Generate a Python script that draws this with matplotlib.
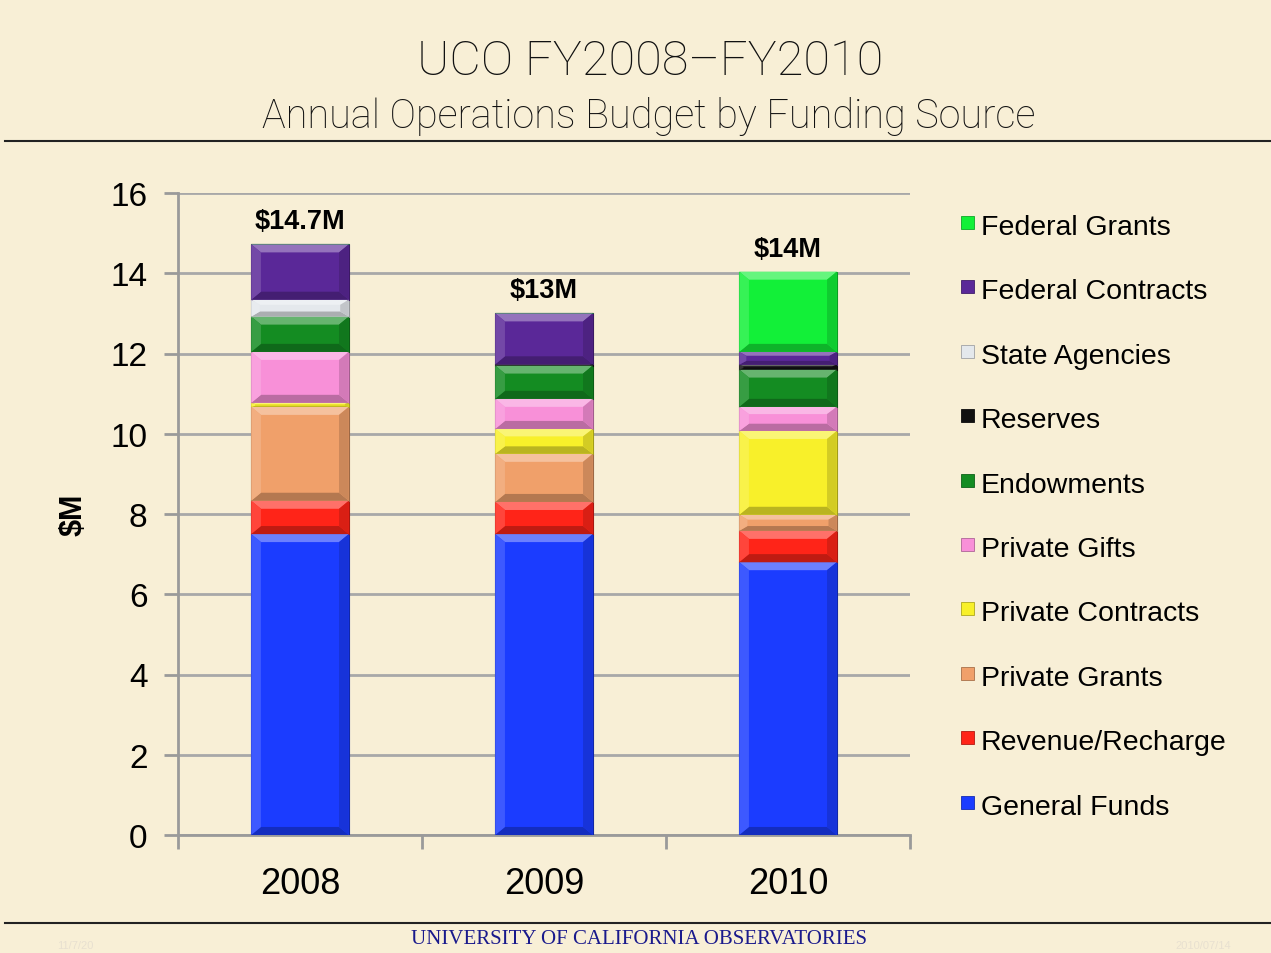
import matplotlib
matplotlib.use("Agg")
import matplotlib.pyplot as plt
import numpy as np
from matplotlib.patches import Polygon, Rectangle
from matplotlib.colors import to_rgb

years = ["2008", "2009", "2010"]
totals = ["$14.7M", "$13M", "$14M"]

# bottom-to-top stacking order
sources = ["General Funds", "Revenue/Recharge", "Private Grants", "Private Contracts",
           "Private Gifts", "Endowments", "Reserves", "State Agencies",
           "Federal Contracts", "Federal Grants"]
general_funds = [7.50, 7.50, 6.80]
revenue_recharge = [0.83, 0.80, 0.78]
private_grants = [2.34, 1.20, 0.40]
private_contracts = [0.10, 0.62, 2.09]
private_gifts = [1.27, 0.75, 0.60]
endowments = [0.88, 0.83, 0.93]
reserves = [0.00, 0.03, 0.12]
state_agencies = [0.42, 0.00, 0.00]
federal_contracts = [1.38, 1.27, 0.32]
federal_grants = [0.00, 0.00, 2.00]

series = [general_funds, revenue_recharge, private_grants, private_contracts,
          private_gifts, endowments, reserves, state_agencies,
          federal_contracts, federal_grants]
colors = ["#1b3cff", "#ff2418", "#f0a06a", "#f8f02a", "#f890d8",
          "#148c22", "#111111", "#e4e8ec", "#5a2898", "#12f038"]

bg = "#f8efd6"
sans = ["Liberation Sans", "DejaVu Sans"]
fig = plt.figure(figsize=(12.71, 9.54), dpi=100)
fig.patch.set_facecolor(bg)

def mix(c, t, amt):
    c = np.array(to_rgb(c)); t = np.array(to_rgb(t))
    return tuple(c * (1 - amt) + t * amt)

ax = fig.add_axes([178 / 1271, 1 - 836 / 954, 732 / 1271, 642 / 954])
ax.set_facecolor(bg)
ax.set_xlim(-0.5, 2.5)
ax.set_ylim(0, 16)
ax.set_yticks(range(0, 17, 2))
ax.yaxis.grid(True, color="#a8a8a8", linewidth=2)
ax.set_axisbelow(True)
for s in ["top", "right"]:
    ax.spines[s].set_visible(False)
for s in ["left", "bottom"]:
    ax.spines[s].set_color("#9a9a9a")
    ax.spines[s].set_linewidth(2)
ax.set_xticks([-0.5, 0.5, 1.5, 2.5], minor=False)
ax.set_xticklabels([])
ax.tick_params(axis="x", which="major", length=10, width=2, color="#9a9a9a", direction="out")
ax.tick_params(axis="y", length=10, width=2, color="#9a9a9a", labelsize=24, pad=12)
for lab in ax.get_yticklabels():
    lab.set_family(sans)
ax.set_xticks(range(3), minor=True)
ax.set_xticklabels(years, minor=True)
ax.tick_params(axis="x", which="minor", length=0, labelsize=26, pad=22)
for lab in ax.get_xticklabels(minor=True):
    lab.set_family(sans)
ax.set_ylabel("$M", fontsize=22, fontweight="bold", labelpad=16, family=sans)

w = 0.4
bx = w / 2
bev_x = 0.04
x = np.arange(3)
bottoms = np.zeros(3)
for vals, col in zip(series, colors):
    vals = np.array(vals)
    ax.bar(x, vals, w, bottom=bottoms, color=col, edgecolor=mix(col, "black", 0.35),
           linewidth=0.8, zorder=3)
    for i in range(3):
        h = vals[i]
        if h <= 0:
            continue
        b = bottoms[i]
        t = b + h
        by = min(0.2, h * 0.3)
        bxx = min(bev_x, bev_x * (by / 0.2) + 0.01)
        l, r = x[i] - bx, x[i] + bx
        # bevel faces
        ax.add_patch(Polygon([(l, t), (r, t), (r - bxx, t - by), (l + bxx, t - by)],
                             closed=True, color=mix(col, "white", 0.35), lw=0, zorder=4))
        ax.add_patch(Polygon([(l, b), (r, b), (r - bxx, b + by), (l + bxx, b + by)],
                             closed=True, color=mix(col, "black", 0.25), lw=0, zorder=4))
        ax.add_patch(Polygon([(l, b), (l, t), (l + bxx, t - by), (l + bxx, b + by)],
                             closed=True, color=mix(col, "white", 0.15), lw=0, zorder=4))
        ax.add_patch(Polygon([(r, b), (r, t), (r - bxx, t - by), (r - bxx, b + by)],
                             closed=True, color=mix(col, "black", 0.15), lw=0, zorder=4))
    bottoms = bottoms + vals

for i in range(3):
    ax.text(x[i], bottoms[i] + 0.25, totals[i], ha="center", va="bottom", fontsize=19.5,
            fontweight="bold", family=sans, zorder=5)

# legend (top to bottom: reverse of stacking order)
leg_y0 = 228
leg_dy = 64.4
for k, (name, col) in enumerate(zip(sources[::-1], colors[::-1])):
    yy = 1 - (leg_y0 + k * leg_dy) / 954
    fig.patches.append(Rectangle((961 / 1271, yy - 2 / 954), 13 / 1271, 13 / 954,
                                 transform=fig.transFigure, facecolor=col,
                                 edgecolor=mix(col, "black", 0.3), lw=0.6))
    fig.text(981 / 1271, yy, name, fontsize=20.5, va="center", ha="left", family=sans)

# titles
fig.text(650 / 1271, 1 - 62 / 954, "UCO FY2008\u2013FY2010", ha="center", va="center",
         fontsize=35, fontweight="light", family=["Roboto", "DejaVu Sans"], color="#111111")
fig.text(649 / 1271, 1 - 116 / 954, "Annual Operations Budget by Funding Source",
         ha="center", va="center", fontsize=28.5, fontweight="light",
         family=["Roboto", "DejaVu Sans"], color="#111111")

fig.add_artist(plt.Line2D([5 / 1271, 1], [1 - 142 / 954] * 2, color="#222222", lw=1.5,
                          transform=fig.transFigure))
fig.add_artist(plt.Line2D([5 / 1271, 1], [1 - 924 / 954] * 2, color="#222222", lw=1.5,
                          transform=fig.transFigure))

fig.text(639 / 1271, 1 - 940 / 954, "UNIVERSITY OF CALIFORNIA OBSERVATORIES", ha="center",
         va="center", fontsize=15, color="#1a1a8c",
         family=["Liberation Serif", "DejaVu Serif"])
fig.text(75 / 1271, 1 - 946 / 954, "11/7/20", ha="center", va="center", fontsize=8,
         color="#e8e0d0", family=sans)
fig.text(1203 / 1271, 1 - 946 / 954, "2010/07/14", ha="center", va="center", fontsize=8,
         color="#e8e0d0", family=sans)

fig.savefig("out.png", dpi=100, facecolor=bg)
